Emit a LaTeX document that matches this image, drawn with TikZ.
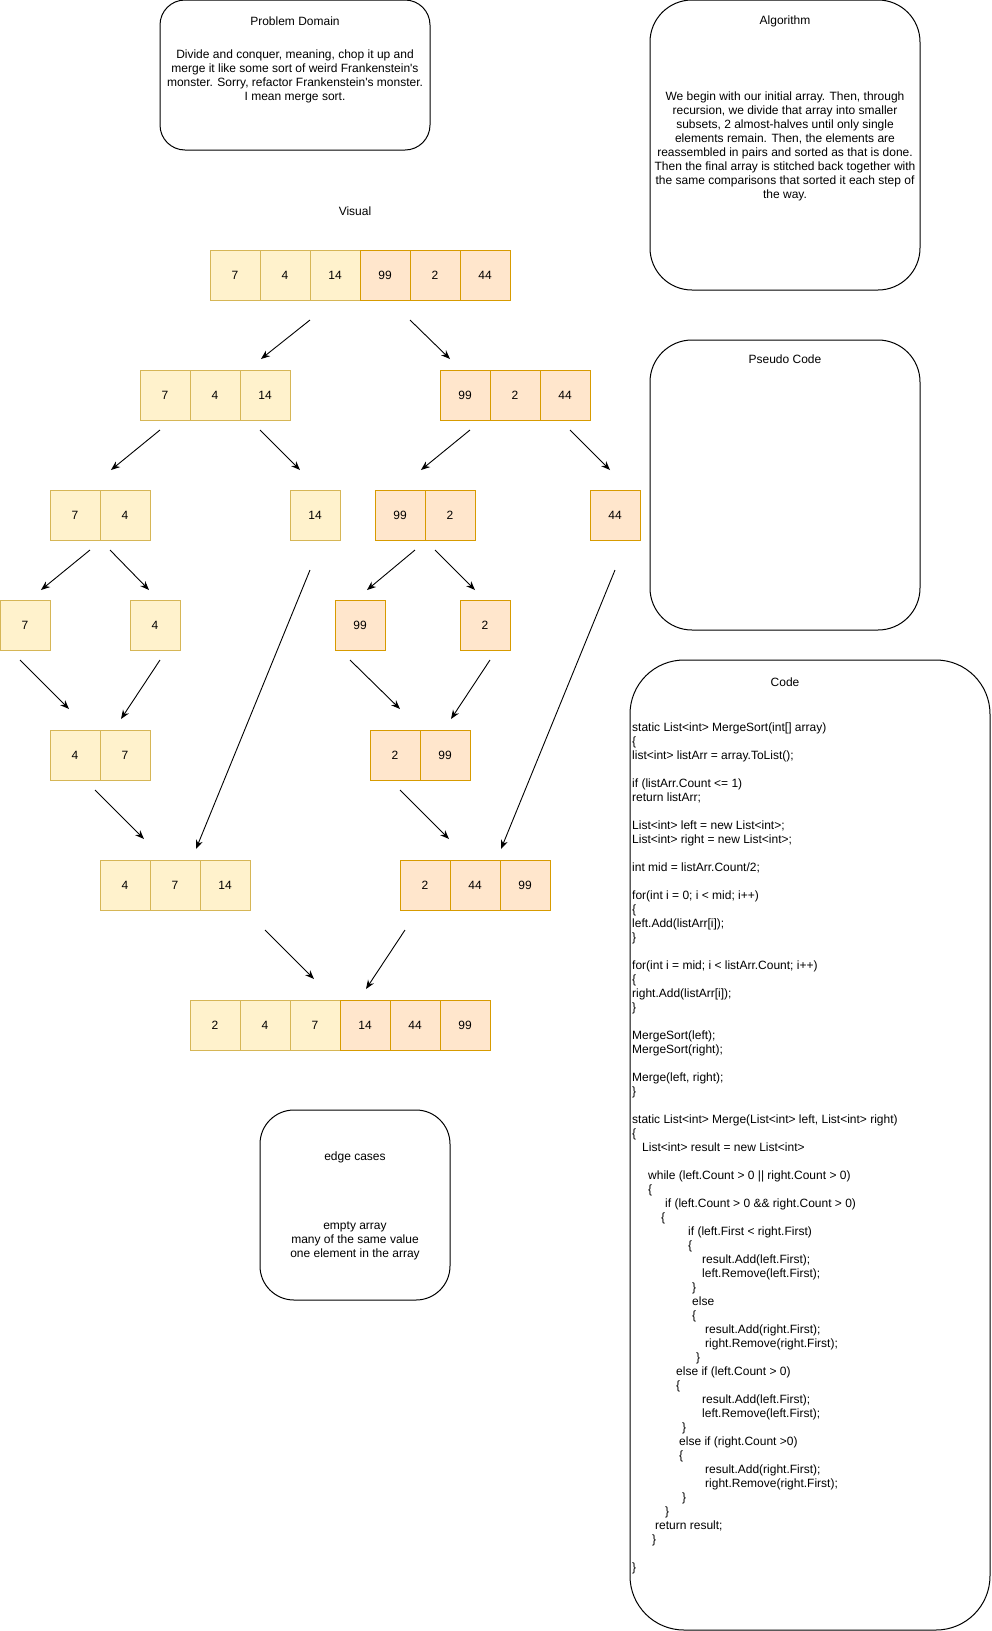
\documentclass[tikz,border=0pt]{standalone}
\usepackage{fontspec}
\setmainfont{Liberation Sans}
\usetikzlibrary{arrows.meta}

\definecolor{yfill}{HTML}{FFF2CC}
\definecolor{ydraw}{HTML}{D6B656}
\definecolor{ofill}{HTML}{FFE6CC}
\definecolor{odraw}{HTML}{D79B00}
\newcommand\ind[1]{\hspace*{#1pt}}

\begin{document}
\begin{tikzpicture}[x=1pt,y=-1pt,
  font=\fontsize{12}{14}\selectfont,
  cell/.style={draw,line width=1pt,minimum size=50pt,inner sep=0pt},
  ycell/.style={cell,draw=ydraw,fill=yfill},
  ocell/.style={cell,draw=odraw,fill=ofill},
  box/.style={draw,line width=1pt,rounded corners=#1,inner sep=0pt},
  txt/.style={inner sep=0pt,align=center},
  arr/.style={-{Stealth[length=9pt,width=7pt]},line width=0.9pt}]

  \useasboundingbox (0,0) rectangle (991,1631);

  % text boxes
  \node[box=25pt,minimum width=270pt,minimum height=150pt] (domain) at (295,75) {};
  \node[box=42pt,minimum width=270pt,minimum height=290pt] (algo) at (785,145) {};
  \node[box=42pt,minimum width=270pt,minimum height=290pt] (pseudo) at (785,485) {};
  \node[box=54pt,minimum width=360pt,minimum height=970pt] (code) at (810,1145) {};
  \node[box=34pt,minimum width=190pt,minimum height=190pt] (edges) at (355,1205) {};

  \node[txt] (domaintitle) at (295,21) {Problem Domain};
  \node[txt] (domaintext) at (295,76.5) {Divide and conquer, meaning, chop it up and\\
    merge it like some sort of weird Frankenstein\textquotesingle s\\
    monster. Sorry, refactor Frankenstein\textquotesingle s monster.\\
    I mean merge sort.};
  \node[txt] (algotitle) at (785,21) {Algorithm};
  \node[txt] (algotext) at (785,146.5) {We begin with our initial array. Then, through\\
    recursion, we divide that array into smaller\\
    subsets, 2 almost-halves until only single\\
    elements remain. Then, the elements are\\
    reassembled in pairs and sorted as that is done.\\
    Then the final array is stitched back together with\\
    the same comparisons that sorted it each step of\\
    the way.};
  \node[txt] (pseudotitle) at (785,359) {Pseudo Code};
  \node[txt] (codetitle) at (785,682) {Code};
  \node[txt] (visual) at (355,211) {Visual};
  \node[txt] (edgetitle) at (355,1157) {edge cases};
  \node[txt] (edgetext) at (355,1241) {empty array\\many of the same value\\one element in the array};

  % the arrays
  \foreach \v [count=\i] in {7,4,14} \node[ycell] (top\i) at (185+50*\i,275) {\v};
  \foreach \v [count=\i from 4] in {99,2,44} \node[ocell] (top\i) at (185+50*\i,275) {\v};

  \foreach \v [count=\i] in {7,4,14} \node[ycell] (la\i) at (115+50*\i,395) {\v};
  \foreach \v [count=\i] in {99,2,44} \node[ocell] (ra\i) at (415+50*\i,395) {\v};

  \foreach \v [count=\i] in {7,4} \node[ycell] (lb\i) at (25+50*\i,515) {\v};
  \node[ycell] (lc1) at (315,515) {14};
  \foreach \v [count=\i] in {99,2} \node[ocell] (rb\i) at (350+50*\i,515) {\v};
  \node[ocell] (rc1) at (615,515) {44};

  \node[ycell] (ld1) at (25,625) {7};
  \node[ycell] (le1) at (155,625) {4};
  \node[ocell] (rd1) at (360,625) {99};
  \node[ocell] (re1) at (485,625) {2};

  \foreach \v [count=\i] in {4,7} \node[ycell] (lf\i) at (25+50*\i,755) {\v};
  \foreach \v [count=\i] in {2,99} \node[ocell] (rf\i) at (345+50*\i,755) {\v};

  \foreach \v [count=\i] in {4,7,14} \node[ycell] (lg\i) at (75+50*\i,885) {\v};
  \foreach \v [count=\i] in {2,44,99} \node[ocell] (rg\i) at (375+50*\i,885) {\v};

  \foreach \v [count=\i] in {2,4,7} \node[ycell] (res\i) at (165+50*\i,1025) {\v};
  \foreach \v [count=\i from 4] in {14,44,99} \node[ocell] (res\i) at (165+50*\i,1025) {\v};

  % arrows
  \foreach \n/\sx/\sy/\ex/\ey in {1/310/320/261/359, 2/410/320/450/359,
      3/160/430/111/470, 4/260/430/300/470, 5/470/430/421/470, 6/570/430/610/470,
      7/90/550/41/590, 8/110/550/149/590, 9/415/550/367/590, 10/435/550/475/590,
      11/20/660/69/709, 12/160/660/121/719, 13/350/660/400/709, 14/490/660/451/719,
      15/310/570/196/849, 16/615/570/501/849, 17/95/790/144/839, 18/400/790/449/839,
      19/265/930/314/979, 20/405/930/366/989} {
    \coordinate (s\n) at (\sx,\sy);
    \coordinate (e\n) at (\ex,\ey);
    \draw[arr] (s\n) -- (e\n);
  }

  % code listing
  \node[anchor=base west,inner sep=0pt,align=left] (codetext) at (632,1571) {%
static List<int> MergeSort(int[] array)\\
\{\\
list<int> listArr = array.ToList();\\
\mbox{}\\
if (listArr.Count <= 1)\\
return listArr;\\
\mbox{}\\
List<int> left = new List<int>;\\
List<int> right = new List<int>;\\
\mbox{}\\
int mid = listArr.Count/2;\\
\mbox{}\\
for(int i = 0; i < mid; i++)\\
\{\\
left.Add(listArr[i]);\\
\}\\
\mbox{}\\
for(int i = mid; i < listArr.Count; i++)\\
\{\\
right.Add(listArr[i]);\\
\}\\
\mbox{}\\
MergeSort(left);\\
MergeSort(right);\\
\mbox{}\\
Merge(left, right);\\
\}\\
\mbox{}\\
static List<int> Merge(List<int> left, List<int> right)\\
\{\\
\ind{10}List<int> result = new List<int>\\
\mbox{}\\
\ind{16}while (left.Count > 0 || right.Count > 0)\\
\ind{16}\{\\
\ind{33}if (left.Count > 0 \&\& right.Count > 0)\\
\ind{29}\{\\
\ind{56}if (left.First < right.First)\\
\ind{56}\{\\
\ind{70}result.Add(left.First);\\
\ind{70}left.Remove(left.First);\\
\ind{60}\}\\
\ind{60}else\\
\ind{60}\{\\
\ind{73}result.Add(right.First);\\
\ind{73}right.Remove(right.First);\\
\ind{64}\}\\
\ind{44}else if (left.Count > 0)\\
\ind{44}\{\\
\ind{70}result.Add(left.First);\\
\ind{70}left.Remove(left.First);\\
\ind{50}\}\\
\ind{47}else if (right.Count >0)\\
\ind{47}\{\\
\ind{73}result.Add(right.First);\\
\ind{73}right.Remove(right.First);\\
\ind{50}\}\\
\ind{33}\}\\
\ind{23}return result;\\
\ind{20}\}\\
\mbox{}\\
\}};

\end{tikzpicture}
\end{document}
